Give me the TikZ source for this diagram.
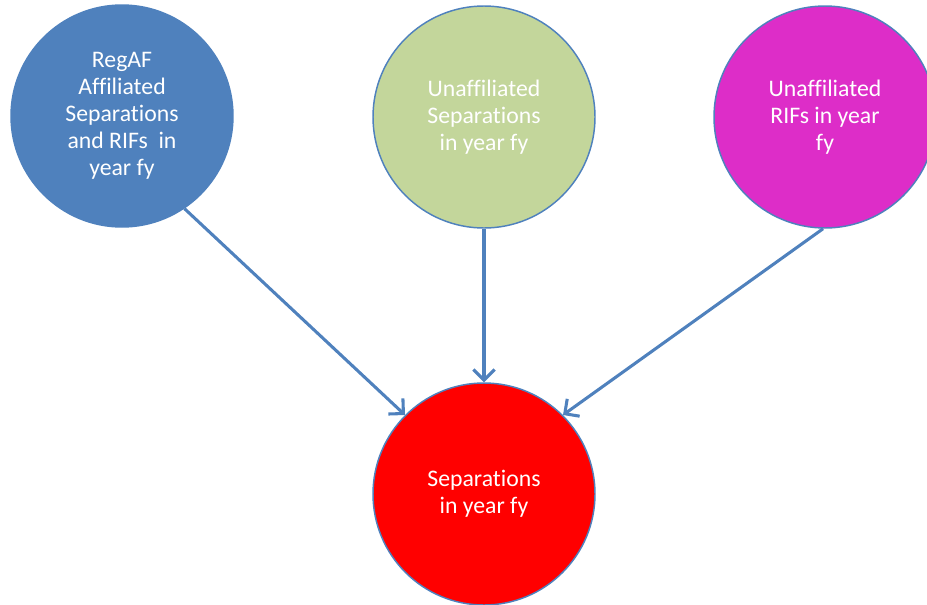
\documentclass[tikz,border=0pt]{standalone}
\usepackage{fontspec}
\setmainfont[Ligatures={NoCommon,NoRequired,NoContextual}]{Carlito}
\usetikzlibrary{arrows.meta}
\definecolor{lineblue}{HTML}{4F81BD}
\definecolor{regafblue}{HTML}{4F81BD}
\definecolor{unsepgreen}{HTML}{C3D69B}
\definecolor{unrifpink}{HTML}{DD2DC8}
\definecolor{sepred}{HTML}{FF0000}
\begin{document}
\begin{tikzpicture}[x=0.75pt, y=-0.75pt,
    bubble/.style={circle, draw=lineblue, line width=1.1pt, minimum size=166.5pt,
        inner sep=0pt, align=center, text=white,
        font=\fontsize{17.8}{20.25}\selectfont},
    flow/.style={draw=lineblue, line width=2.3pt,
        -{Straight Barb[length=8pt, width=16pt, line width=2.3pt]}}]
    \useasboundingbox (0,0) rectangle (927,604);
    \clip (0,0) rectangle (927,604);
    % the three sources
    \node[bubble, fill=regafblue] (regaf) at (122,116) {RegAF\\Affiliated\\Separations\\and RIFs~ in\\year fy};
    \node[bubble, fill=unsepgreen] (unsep) at (484,117) {Unaffiliated\\Separations\\in year fy};
    \node[bubble, fill=unrifpink] (unrif) at (825,117) {Unaffiliated\\RIFs in year\\fy};
    % the sum
    \node[bubble, fill=sepred] (sep) at (484,494) {Separations\\in year fy};
    \draw[flow] (regaf.-56) -- (sep.135);
    \draw[flow] (unsep.south) -- (sep.north);
    \draw[flow] (unrif.-91) -- (sep.45);
\end{tikzpicture}
\end{document}
